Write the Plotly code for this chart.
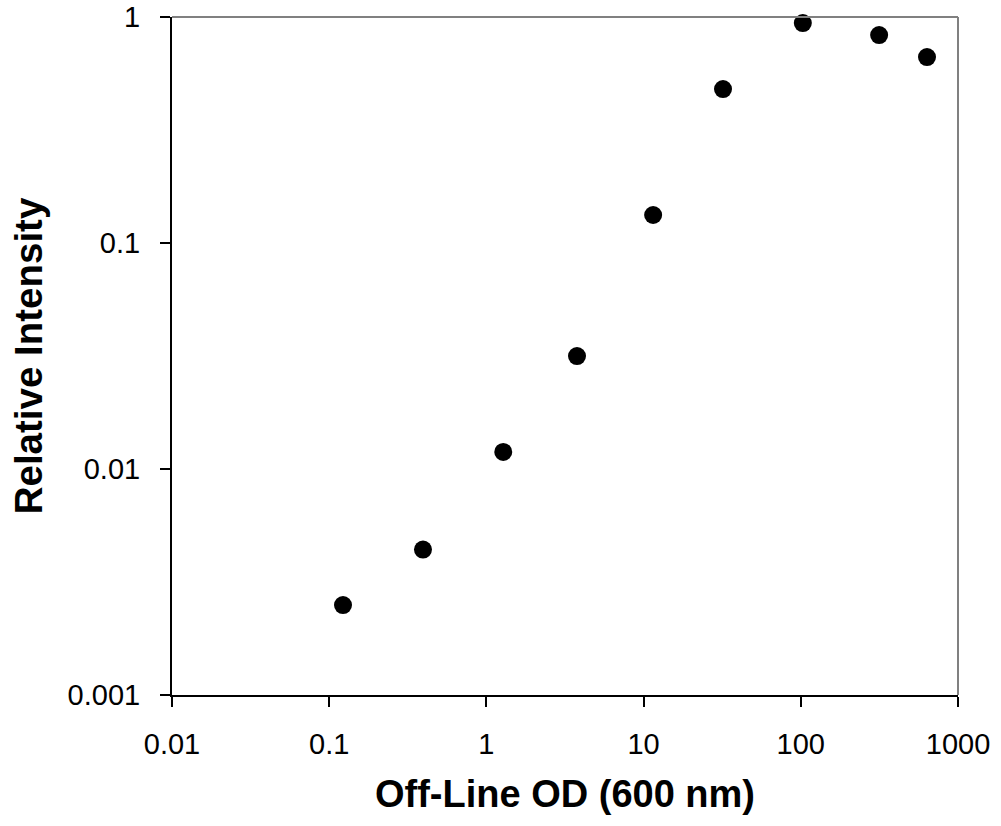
import plotly.graph_objects as go

od = [0.1224, 0.395, 1.28, 3.77, 11.5, 32, 103, 315, 635]
intensity = [0.0025, 0.0044, 0.0119, 0.0316, 0.133, 0.48, 0.94, 0.832, 0.665]

x_ticks = [0.01, 0.1, 1, 10, 100, 1000]
x_labels = ["0.01", "0.1", "1", "10", "100", "1000"]
y_ticks = [0.001, 0.01, 0.1, 1]
y_labels = ["0.001", "0.01", "0.1", "1"]

fig = go.Figure()
fig.add_trace(go.Scatter(x=od, y=intensity, mode="markers",
                         marker=dict(color="black", size=18, line=dict(width=0)),
                         showlegend=False, cliponaxis=False))

font = "Liberation Sans, Arial, sans-serif"
fig.update_layout(
    width=1001, height=826,
    margin=dict(l=172, r=43, t=17, b=131, autoexpand=False),
    paper_bgcolor="white", plot_bgcolor="white",
    font=dict(family=font, color="black"),
    xaxis=dict(type="log", range=[-2, 3], tickvals=x_ticks, ticktext=x_labels, automargin=False,
               showgrid=False, zeroline=False, showline=True, linecolor="black", linewidth=2,
               ticks="outside", ticklen=10, tickwidth=2, tickcolor="black",
               tickfont=dict(size=29, family=font), ticklabelstandoff=12,
               title=dict(text="<b>Off-Line OD (600 nm)</b>", font=dict(size=38, family=font), standoff=22)),
    yaxis=dict(type="log", range=[-3, 0], tickvals=y_ticks, ticktext=y_labels, automargin=False,
               showgrid=False, zeroline=False, showline=True, linecolor="black", linewidth=2,
               ticks="outside", ticklen=10, tickwidth=2, tickcolor="black",
               tickfont=dict(size=29, family=font), ticklabelstandoff=14,
               title=dict(text="<b>Relative Intensity</b>", font=dict(size=38.5, family=font), standoff=13)),
    shapes=[
        dict(type="line", xref="paper", yref="paper", x0=0, x1=1, y0=1, y1=1,
             line=dict(color="#808080", width=2)),
        dict(type="line", xref="paper", yref="paper", x0=1, x1=1, y0=0, y1=1,
             line=dict(color="#808080", width=2)),
    ],
)

fig.write_html("out.html")
